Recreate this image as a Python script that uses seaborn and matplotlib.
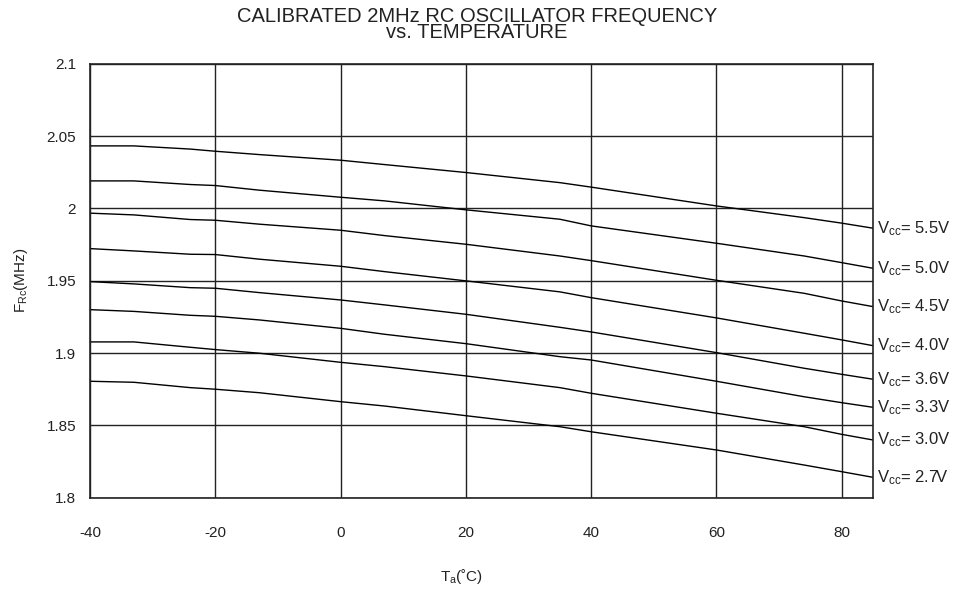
import pandas as pd
import numpy as np
import matplotlib
matplotlib.use("Agg")
import matplotlib.pyplot as plt
import seaborn as sns

# data
temps = [-40, -33, -24, -20, -13, 0, 7, 20, 35, 40, 60, 74, 80, 85]
vcc_labels = ["5.5V", "5.0V", "4.5V", "4.0V", "3.6V", "3.3V", "3.0V", "2.7V"]
f_55 = [2.0432, 2.0432, 2.0410, 2.0395, 2.0372, 2.0333, 2.0303, 2.0248, 2.0178, 2.0147, 2.0017, 1.9936, 1.9898, 1.9863]
f_50 = [2.0190, 2.0190, 2.0165, 2.0158, 2.0126, 2.0077, 2.0052, 1.9990, 1.9925, 1.9879, 1.9759, 1.9671, 1.9625, 1.9586]
f_45 = [1.9967, 1.9955, 1.9923, 1.9918, 1.9891, 1.9849, 1.9812, 1.9752, 1.9671, 1.9639, 1.9503, 1.9413, 1.9360, 1.9321]
f_40 = [1.9722, 1.9706, 1.9683, 1.9681, 1.9649, 1.9600, 1.9563, 1.9499, 1.9423, 1.9383, 1.9243, 1.9137, 1.9091, 1.9051]
f_36 = [1.9494, 1.9478, 1.9452, 1.9448, 1.9418, 1.9367, 1.9333, 1.9268, 1.9178, 1.9146, 1.9003, 1.8895, 1.8853, 1.8819]
f_33 = [1.9300, 1.9288, 1.9261, 1.9254, 1.9229, 1.9171, 1.9130, 1.9065, 1.8975, 1.8952, 1.8805, 1.8698, 1.8657, 1.8625]
f_30 = [1.9077, 1.9077, 1.9040, 1.9024, 1.8999, 1.8936, 1.8906, 1.8842, 1.8761, 1.8722, 1.8584, 1.8491, 1.8438, 1.8399]
f_27 = [1.8805, 1.8798, 1.8761, 1.8750, 1.8726, 1.8664, 1.8634, 1.8567, 1.8491, 1.8456, 1.8330, 1.8226, 1.8180, 1.8141]
series = [f_55, f_50, f_45, f_40, f_36, f_33, f_30, f_27]

x_ticks = [-40, -20, 0, 20, 40, 60, 80]
y_ticks = [1.8, 1.85, 1.9, 1.95, 2.0, 2.05, 2.1]
y_ticklabels = ["1.8", "1.85", "1.9", "1.95", "2", "2.05", "2.1"]

rows = []
for lab, vals in zip(vcc_labels, series):
    for t, f in zip(temps, vals):
        rows.append({"T": t, "F": f, "Vcc": lab})
df = pd.DataFrame(rows)

sns.set_style("white")
plt.rcParams["font.family"] = ["Liberation Sans", "DejaVu Sans"]
plt.rcParams["mathtext.fontset"] = "custom"
plt.rcParams["mathtext.rm"] = "Liberation Sans"
plt.rcParams["mathtext.it"] = "Liberation Sans"
plt.rcParams["axes.unicode_minus"] = False

fig = plt.figure(figsize=(9.69, 5.90), dpi=100)
ax = fig.add_axes([0.0929, 0.1564, 0.8081, 0.7356])

sns.lineplot(data=df, x="T", y="F", hue="Vcc", palette=["black"] * 8,
             linewidth=1.0, legend=False, ax=ax)

ax.set_xlim(-40, 85)
ax.set_ylim(1.8, 2.1)
ax.set_xticks(x_ticks)
ax.set_yticks(y_ticks)
ax.set_yticklabels(y_ticklabels)
ax.grid(True, color="#222222", linewidth=1.0)
ax.set_axisbelow(True)
for s in ax.spines.values():
    s.set_color("#222222")
    s.set_linewidth(1.2)
ax.tick_params(axis="x", length=0, pad=20, labelsize=11, colors="#222222")
ax.tick_params(axis="y", length=4, width=1, pad=6, labelsize=11, colors="#222222")

ax.set_xlabel(r"T$_\mathregular{a}$(˚C)", fontsize=11, color="#222222")
ax.xaxis.set_label_coords(0.475, -0.16)
ax.set_ylabel(r"F$_\mathregular{Rc}$(MHz)", fontsize=11, color="#222222", labelpad=12)

# right-side voltage labels
for lab, vals in zip(vcc_labels, series):
    ax.annotate(r"V$_\mathregular{cc}$= " + lab, xy=(85, vals[-1]), xytext=(3, 0),
                textcoords="offset points", va="center", ha="left",
                fontsize=12, color="#222222", annotation_clip=False)

fig.text(0.492, 0.988, "CALIBRATED 2MHz RC OSCILLATOR FREQUENCY\nvs. TEMPERATURE",
         ha="center", va="top", fontsize=14.5, color="#222222", linespacing=0.8)

fig.savefig("out.png", dpi=100)
